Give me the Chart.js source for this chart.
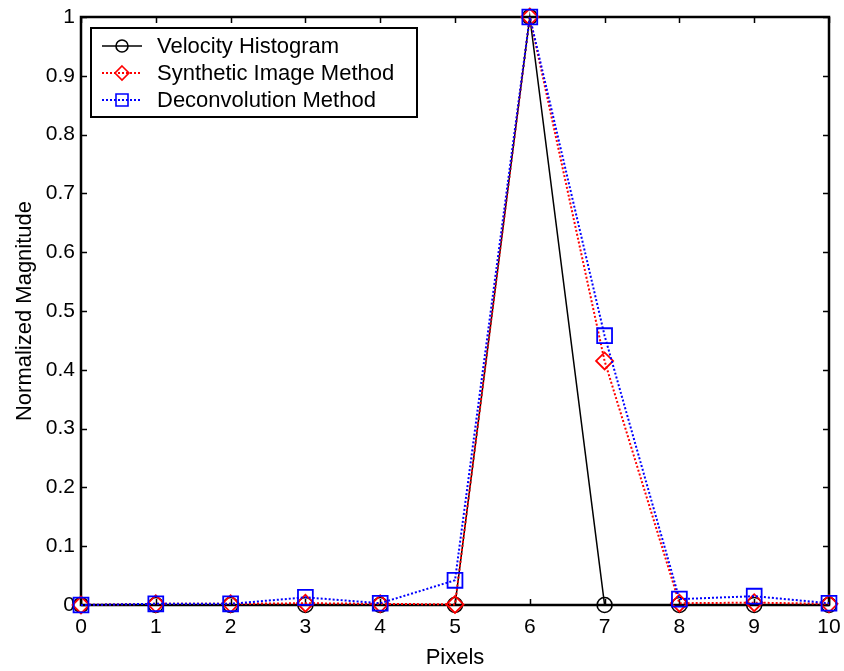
<!DOCTYPE html>
<html>
<head>
<meta charset="utf-8">
<script src="https://cdn.jsdelivr.net/npm/chart.js@4/dist/chart.umd.min.js"></script>
<style>
html,body{margin:0;padding:0;background:#fff}
#wrap{width:844px;height:671px;position:relative}
</style>
</head>
<body>
<div id="wrap"><canvas id="c" width="844" height="671"></canvas></div>
<script>
/* pixel profile — velocity histogram vs. the two reconstruction methods */

const pixels=[0,1,2,3,4,5,6,7,8,9,10];
const velocityHist=[0,0,0,0,0,0,1,0,0,0,0];
const syntheticImg=[0,0.002,0.002,0.003,0.002,0.001,1,0.415,0.003,0.004,0.002];
const deconvolution=[0,0.002,0.002,0.013,0.003,0.042,1,0.458,0.01,0.015,0.003];
const xTicks=[0,1,2,3,4,5,6,7,8,9,10];
const yTicks=[0,0.1,0.2,0.3,0.4,0.5,0.6,0.7,0.8,0.9,1];
const seriesNames=['Velocity Histogram','Synthetic Image Method','Deconvolution Method'];

const FONT='"Liberation Sans", Arial, sans-serif';
const pts=arr=>pixels.map((x,i)=>({x,y:arr[i]}));

/* ─── FRAME + INWARD TICKS ─────────────────────────── */
const boxAxes={
  id:'boxAxes',
  beforeDatasetsDraw(chart){
    const {ctx,chartArea:a,scales:{x,y}}=chart;
    const tl=6;
    ctx.save();
    ctx.strokeStyle='#000';ctx.lineWidth=1.5;
    ctx.beginPath();
    xTicks.forEach(v=>{
      const px=Math.round(x.getPixelForValue(v))+.5;
      ctx.moveTo(px,a.bottom);ctx.lineTo(px,a.bottom-tl);
      ctx.moveTo(px,a.top);ctx.lineTo(px,a.top+tl);
    });
    yTicks.forEach(v=>{
      const py=Math.round(y.getPixelForValue(v))+.5;
      ctx.moveTo(a.left,py);ctx.lineTo(a.left+tl,py);
      ctx.moveTo(a.right,py);ctx.lineTo(a.right-tl,py);
    });
    ctx.stroke();
    ctx.lineWidth=2.5;
    ctx.strokeRect(a.left,a.top,a.right-a.left,a.bottom-a.top);
    ctx.restore();
  }
};

/* ─── MARKERS (legend) ─────────────────────────────── */
function marker(ctx,style,cx,cy,r){
  ctx.beginPath();
  if(style==='circle')ctx.arc(cx,cy,r,0,Math.PI*2);
  else if(style==='rectRot'){ctx.moveTo(cx,cy-r);ctx.lineTo(cx+r,cy);ctx.lineTo(cx,cy+r);ctx.lineTo(cx-r,cy);ctx.closePath();}
  else ctx.rect(cx-r,cy-r,2*r,2*r);
  ctx.stroke();
}

/* ─── LEGEND BOX ───────────────────────────────────── */
const boxLegend={
  id:'boxLegend',
  afterDraw(chart){
    const {ctx}=chart;
    const bx=91,by=28,bw=326,bh=89,rowY=[46,73,100];
    ctx.save();
    ctx.fillStyle='#fff';ctx.fillRect(bx,by,bw,bh);
    ctx.strokeStyle='#000';ctx.lineWidth=2;ctx.strokeRect(bx,by,bw,bh);
    chart.data.datasets.forEach((ds,i)=>{
      const yy=rowY[i];
      ctx.strokeStyle=ds.borderColor;ctx.lineWidth=ds.borderWidth;
      ctx.setLineDash(ds.borderDash||[]);
      ctx.beginPath();ctx.moveTo(102,yy);ctx.lineTo(142,yy);ctx.stroke();
      ctx.setLineDash([]);ctx.lineWidth=1.6;
      marker(ctx,ds.pointStyle,122,yy,ds.pointStyle==='circle'?6:ds.pointStyle==='rectRot'?7:6);
      ctx.fillStyle='#000';ctx.font='22px '+FONT;ctx.textBaseline='middle';ctx.textAlign='left';
      ctx.fillText(ds.label,157,yy+1);
    });
    ctx.restore();
  }
};

const tickFont={family:FONT,size:21};

new Chart(document.getElementById('c'),{
  type:'line',
  data:{datasets:[
    {label:seriesNames[0],data:pts(velocityHist),borderColor:'#000',borderWidth:1.5,
     pointStyle:'circle',pointRadius:7.5,pointBorderWidth:1.6,pointBorderColor:'#000',
     pointBackgroundColor:'transparent',backgroundColor:'transparent',order:3,clip:false},
    {label:seriesNames[1],data:pts(syntheticImg),borderColor:'#ff0000',borderWidth:2,borderDash:[2,2],
     pointStyle:'rectRot',pointRadius:8.5,pointBorderWidth:1.8,pointBorderColor:'#ff0000',
     pointBackgroundColor:'transparent',backgroundColor:'transparent',order:2,clip:false},
    {label:seriesNames[2],data:pts(deconvolution),borderColor:'#0000ff',borderWidth:2,borderDash:[2,2],
     pointStyle:'rect',pointRadius:10.5,pointBorderWidth:1.8,pointBorderColor:'#0000ff',
     pointBackgroundColor:'transparent',backgroundColor:'transparent',order:1,clip:false}
  ]},
  options:{
    responsive:false,animation:false,
    layout:{padding:{top:17,right:15,left:0,bottom:0}},
    plugins:{legend:{display:false},tooltip:{enabled:false}},
    elements:{line:{tension:0}},
    scales:{
      x:{type:'linear',min:0,max:10,
        afterBuildTicks:s=>{s.ticks=xTicks.map(v=>({value:v}));},
        afterFit:s=>{s.height=66;s.paddingLeft=0;s.paddingRight=0;},
        grid:{display:false,drawTicks:false},border:{display:false},
        ticks:{font:tickFont,color:'#000',padding:10,maxRotation:0,callback:v=>String(v)},
        title:{display:true,text:'Pixels',font:{family:FONT,size:22},color:'#000',padding:{top:1,bottom:0}}},
      y:{type:'linear',min:0,max:1,
        afterBuildTicks:s=>{s.ticks=yTicks.map(v=>({value:v}));},
        afterFit:s=>{s.width=81;s.paddingTop=0;s.paddingBottom=0;},
        grid:{display:false,drawTicks:false},border:{display:false},
        ticks:{font:tickFont,color:'#000',padding:6,callback:v=>String(+v.toFixed(1))},
        title:{display:true,text:'Normalized Magnitude',font:{family:FONT,size:22},color:'#000',padding:{top:12,bottom:0}}}
    }
  },
  plugins:[boxAxes,boxLegend]
});
</script>
</body>
</html>
